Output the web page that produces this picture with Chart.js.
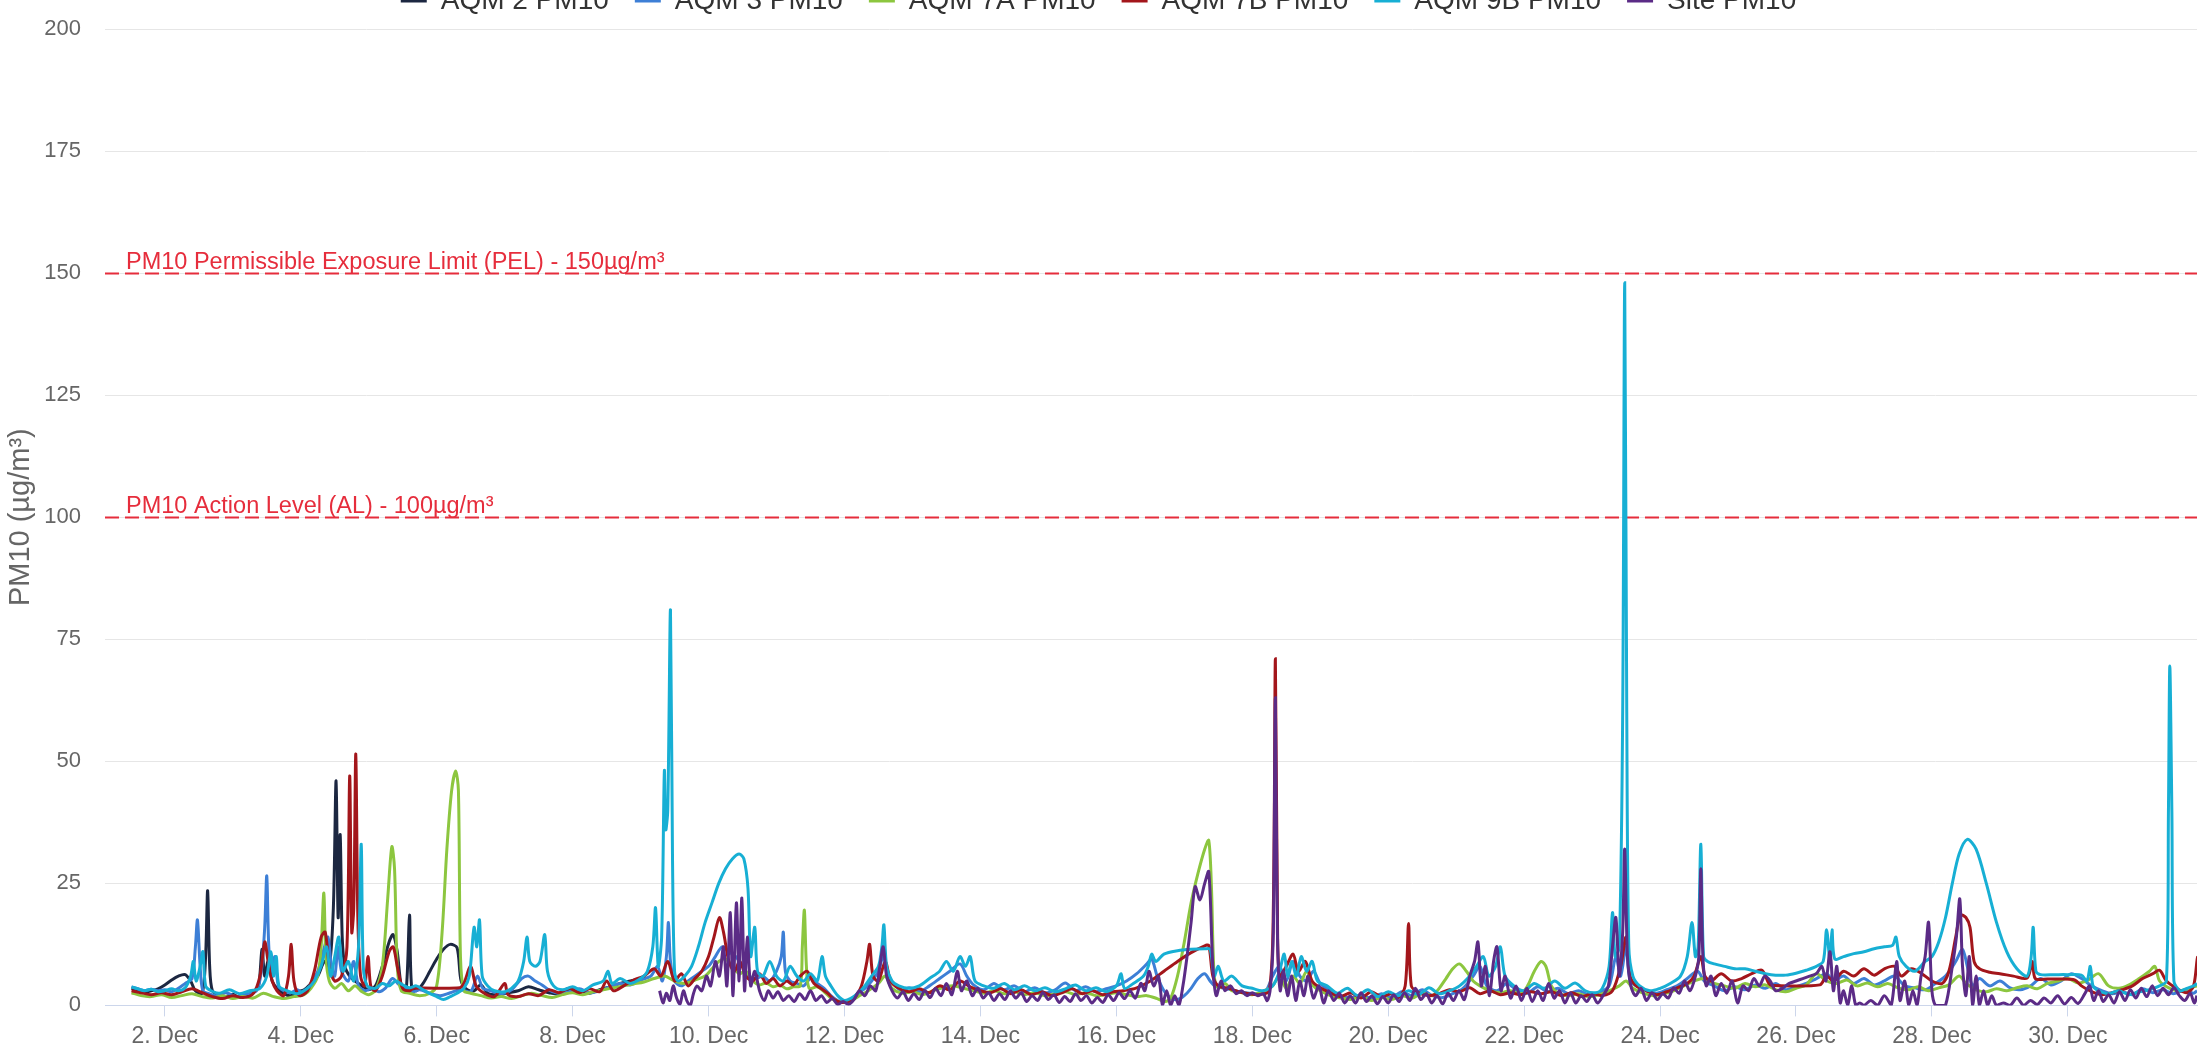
<!DOCTYPE html>
<html>
<head>
<meta charset="utf-8">
<title>PM10 - December</title>
<script src="https://cdn.jsdelivr.net/npm/chart.js@4.4.1/dist/chart.umd.min.js"></script>
<style>
  html, body { margin: 0; padding: 0; background: #fff; overflow: hidden; }
  #wrap { position: absolute; left: 0; top: -39px; width: 2201px; height: 1095px; }
</style>
</head>
<body>
<div id="wrap"><canvas id="pmChart" width="2201" height="1095"></canvas></div>
<script>
// readings per monitor: [day of December, PM10 µg/m³]
const aqm2 = [[1.51,3.5],[1.6,3.2],[1.7,2.8],[1.8,3.0],[1.9,3.4],[2.0,4.2],[2.1,5.2],[2.2,6.0],[2.3,6.3],[2.38,5.0],[2.45,3.0],[2.55,2.5],[2.6,10],[2.63,23.5],[2.66,8],[2.7,3],[2.8,2.2],[2.9,1.8],[3.0,2.3],[3.1,1.6],[3.2,2.0],[3.3,2.6],[3.38,4],[3.43,11.5],[3.47,6],[3.52,9],[3.58,5],[3.65,3.5],[3.75,2.4],[3.85,2.0],[3.95,2.8],[4.05,3.2],[4.15,4.5],[4.25,6],[4.35,9],[4.42,8],[4.48,20],[4.52,46],[4.55,18],[4.58,35],[4.61,14],[4.65,8],[4.72,6],[4.8,5],[4.9,4],[5.0,3.2],[5.1,4],[5.2,8],[5.3,13],[5.36,14.5],[5.42,11],[5.48,4],[5.55,3],[5.6,18.5],[5.63,4],[5.7,3],[5.8,4.5],[5.9,7],[6.0,9.5],[6.1,11.5],[6.2,12.5],[6.3,11.8],[6.36,5],[6.45,3.2],[6.55,3],[6.65,4.2],[6.75,2.5],[6.9,2.2],[7.05,2.6],[7.2,3.0],[7.35,3.8],[7.5,3.2],[7.65,2.6],[7.8,2.3],[7.95,3.3],[8.1,3.0],[8.25,2.5],[8.4,3.2],[8.55,3.8],[8.7,4.5],[8.85,5.0],[9.0,5.5]];

const aqm3 = [[1.51,3.8],[1.6,3.4],[1.7,3.0],[1.8,3.3],[1.9,3.0],[2.0,3.2],[2.1,2.8],[2.2,3.5],[2.3,4.5],[2.4,5.5],[2.45,12],[2.48,17.5],[2.52,8],[2.56,3],[2.65,2.4],[2.75,2.0],[2.9,2.6],[3.05,1.8],[3.2,2.3],[3.35,3.0],[3.42,7],[3.47,16],[3.5,26.5],[3.53,12],[3.57,7],[3.62,10],[3.67,4],[3.75,3],[3.85,2.6],[3.95,3.2],[4.05,2.4],[4.15,4.5],[4.25,7],[4.33,11],[4.4,14],[4.45,8],[4.5,6],[4.55,12],[4.6,7],[4.7,5],[4.78,9],[4.85,4],[4.95,3],[5.05,3.5],[5.15,2.8],[5.25,3.6],[5.35,5.5],[5.45,4.2],[5.55,3.4],[5.65,2.8],[5.75,3.2],[5.9,2.5],[6.05,2.0],[6.2,2.6],[6.35,3.2],[6.5,2.8],[6.6,6],[6.68,3.5],[6.8,3],[6.95,2.4],[7.1,3.2],[7.25,5.5],[7.35,6],[7.45,5],[7.55,4.2],[7.65,3.2],[7.8,2.5],[7.95,2.8],[8.1,3.4],[8.25,2.6],[8.4,3],[8.55,3.8],[8.7,4.5],[8.85,4.2],[9.0,5.2],[9.15,6],[9.25,8],[9.32,5],[9.38,10],[9.41,17],[9.44,9],[9.5,5],[9.6,4],[9.7,5],[9.8,6],[9.9,7],[10.0,8],[10.1,10],[10.2,12],[10.3,11],[10.4,10],[10.5,8],[10.6,6],[10.7,5.5],[10.8,6],[10.9,5],[11.0,7],[11.07,10],[11.1,15],[11.13,7],[11.2,5],[11.3,4.5],[11.4,4],[11.5,5.5],[11.6,4.5],[11.7,3.5],[11.8,2],[11.9,1],[12.0,0.8],[12.1,1.2],[12.2,2.5],[12.3,3.5],[12.4,5],[12.5,7],[12.57,10],[12.65,6],[12.75,4],[12.85,3],[12.95,3.6],[13.1,2.8],[13.25,4],[13.4,5.5],[13.55,7],[13.7,8.5],[13.8,6],[13.9,4.2],[14.05,3.2],[14.2,4.5],[14.35,3.2],[14.5,4],[14.65,2.8],[14.8,3.6],[14.95,2.6],[15.1,3.2],[15.25,4.6],[15.4,3],[15.55,3.8],[15.7,2.8],[15.85,3.4],[16.0,4],[16.15,5],[16.3,6.5],[16.45,8.5],[16.52,9.5],[16.6,6],[16.7,3],[16.8,1.5],[16.9,1.2],[17.0,2],[17.1,3.5],[17.2,5.5],[17.3,6.5],[17.38,5],[17.45,4],[17.6,3.5],[17.75,3],[17.9,2.6],[18.05,2.4],[18.2,3],[18.3,6],[18.4,8],[18.5,5],[18.6,9],[18.7,6],[18.8,5],[18.9,7],[19.0,4.5],[19.15,3],[19.3,2],[19.45,1.5],[19.6,2.2],[19.75,1.4],[19.9,2.4],[20.05,1.6],[20.2,2.8],[20.35,2],[20.5,3.2],[20.65,2],[20.8,1.6],[20.95,2.4],[21.1,3.5],[21.25,6],[21.35,8],[21.45,4],[21.6,3],[21.75,4.5],[21.9,3],[22.05,2.5],[22.2,3.8],[22.35,2.8],[22.5,3.5],[22.65,2.4],[22.8,3],[22.95,2.2],[23.1,2.6],[23.25,4],[23.35,10],[23.42,6],[23.5,12],[23.56,5],[23.65,4],[23.8,3],[23.95,2.5],[24.1,3.2],[24.25,4],[24.4,5.5],[24.55,7],[24.65,5],[24.8,4],[24.95,3],[25.1,3.8],[25.25,3.2],[25.4,4.2],[25.55,3.5],[25.7,4.5],[25.85,3.2],[26.0,3.8],[26.15,4.5],[26.3,5.5],[26.45,6.5],[26.55,5],[26.7,6],[26.85,4.5],[27.0,5.5],[27.15,4.2],[27.3,5],[27.45,6],[27.6,4],[27.75,3.6],[27.9,3.2],[28.05,4.5],[28.2,6],[28.35,9],[28.45,11.5],[28.52,8],[28.6,4],[28.7,5.5],[28.85,4],[29.0,5],[29.15,3.6],[29.3,3.2],[29.45,4],[29.6,5.5],[29.75,4.2],[29.9,5],[30.05,6.5],[30.2,5.5],[30.35,4],[30.5,3],[30.65,2.4],[30.8,2.8],[30.95,2.2],[31.1,3.4],[31.25,2.6],[31.4,3.2],[31.55,2.4],[31.7,3],[31.85,2.5],[31.9,3]];

const aqm7a = [[1.51,2.6],[1.65,2.0],[1.8,1.8],[1.95,2.2],[2.1,1.6],[2.25,2.0],[2.4,2.4],[2.55,1.8],[2.7,1.5],[2.85,2.0],[3.0,1.4],[3.15,1.8],[3.3,1.5],[3.45,2.5],[3.6,1.8],[3.75,1.4],[3.9,1.8],[4.05,2.2],[4.15,3.5],[4.25,6],[4.3,12],[4.34,23],[4.37,10],[4.42,5],[4.5,3.5],[4.6,4.5],[4.7,3],[4.8,4],[4.9,2.8],[5.0,2.2],[5.1,3.2],[5.2,8],[5.28,22],[5.34,32.5],[5.38,28],[5.42,8],[5.48,3],[5.6,2.5],[5.75,2],[5.9,2.5],[6.0,4],[6.08,15],[6.15,32],[6.22,44],[6.28,48],[6.32,44],[6.35,10],[6.4,3],[6.5,2.5],[6.65,2],[6.8,1.5],[6.95,1.8],[7.1,1.4],[7.25,2],[7.4,2.5],[7.55,2],[7.7,1.6],[7.85,2.2],[8.0,2.6],[8.15,2.2],[8.3,2.8],[8.45,3.2],[8.6,3.6],[8.75,4],[8.9,4.4],[9.05,4.8],[9.2,5.5],[9.35,6],[9.5,5],[9.65,4.5],[9.8,5.2],[9.95,6],[10.05,7.5],[10.15,9],[10.25,9.5],[10.35,8],[10.45,6.5],[10.55,7],[10.65,5],[10.75,4.2],[10.85,4.6],[10.95,3.8],[11.05,4.2],[11.15,3.4],[11.25,3.8],[11.35,4],[11.38,12],[11.41,19.5],[11.44,8],[11.48,3.5],[11.6,3.8],[11.7,2.8],[11.8,1.5],[11.9,0.8],[12.0,0.6],[12.1,1],[12.2,1.8],[12.35,3],[12.5,4.5],[12.6,6],[12.7,3.5],[12.85,2.5],[13.0,2.8],[13.15,2.2],[13.3,3],[13.45,3.6],[13.6,4],[13.75,3.5],[13.9,3],[14.05,2.5],[14.2,3],[14.35,2.4],[14.5,2.8],[14.65,2.2],[14.8,2.6],[14.95,2],[15.1,2.4],[15.25,2.8],[15.4,2.2],[15.55,2.6],[15.7,2],[15.85,2.2],[16.0,2.6],[16.15,2.2],[16.3,1.8],[16.45,2],[16.6,1.4],[16.72,0.8],[16.8,1.5],[16.9,6],[17.0,13],[17.1,21],[17.2,27],[17.3,32],[17.36,33.8],[17.4,24],[17.44,6],[17.5,3.5],[17.6,4.5],[17.7,3],[17.85,2.6],[18.0,2.2],[18.15,2.8],[18.3,4],[18.4,6],[18.5,3.5],[18.6,6],[18.7,4.5],[18.8,7],[18.9,4],[19.0,3],[19.15,2],[19.3,1.5],[19.45,1.2],[19.6,1.8],[19.75,1],[19.9,1.6],[20.05,1.2],[20.2,2],[20.35,1.5],[20.5,2.5],[20.65,2],[20.75,3.5],[20.85,5.5],[20.95,7.5],[21.05,8.5],[21.15,7],[21.25,5],[21.35,4],[21.5,3],[21.65,2.6],[21.8,3],[21.95,2.4],[22.05,4],[22.15,7],[22.25,9],[22.32,8],[22.4,4],[22.5,2.5],[22.65,2],[22.8,2.4],[22.95,1.8],[23.1,2.2],[23.25,3],[23.4,4],[23.5,5],[23.6,3.5],[23.75,2.5],[23.9,2],[24.05,2.4],[24.2,3],[24.35,4],[24.5,5],[24.65,5.5],[24.8,4.5],[24.95,4],[25.1,3.5],[25.25,4.5],[25.4,3.8],[25.55,4.2],[25.7,3.2],[25.85,2.8],[26.0,3.5],[26.15,4.2],[26.3,6.5],[26.45,5],[26.6,4.5],[26.75,5.2],[26.9,4],[27.05,4.6],[27.2,3.8],[27.35,4.5],[27.5,3.6],[27.65,3.2],[27.8,3.8],[27.95,3],[28.1,3.6],[28.25,4.2],[28.4,6],[28.5,4.5],[28.65,3.2],[28.8,2.8],[28.95,3.4],[29.1,3.0],[29.25,3.6],[29.4,4],[29.55,3.4],[29.7,4.5],[29.85,5],[30.0,5.5],[30.15,4.6],[30.3,5.2],[30.45,6.5],[30.6,4],[30.75,3.5],[30.9,4.2],[31.05,5.5],[31.2,7],[31.28,8],[31.35,5],[31.5,3.5],[31.65,3],[31.8,3.6],[31.9,4]];

const aqm7b = [[1.51,3],[1.65,2.6],[1.8,2.2],[1.95,2.6],[2.1,2.2],[2.25,2.8],[2.4,3.4],[2.55,2.6],[2.7,1.8],[2.85,1.4],[3.0,2],[3.15,1.6],[3.3,2.4],[3.4,6],[3.47,13],[3.52,9],[3.58,5],[3.65,3],[3.75,2],[3.82,6],[3.86,12.5],[3.9,5],[3.98,2],[4.1,3],[4.2,7],[4.3,14],[4.36,15],[4.42,8],[4.5,5],[4.6,6],[4.68,12],[4.72,47],[4.75,15],[4.78,20],[4.81,51.5],[4.84,18],[4.88,6],[4.94,4],[4.99,10],[5.03,4],[5.1,3],[5.2,6],[5.3,11],[5.36,12],[5.42,8],[5.5,3.5],[5.6,3],[5.66,3.5],[6.34,3.6],[6.4,4.5],[6.5,8],[6.58,4],[6.7,2.5],[6.85,1.8],[7.0,4.5],[7.05,2.2],[7.2,1.8],[7.35,2.4],[7.5,2],[7.65,3.2],[7.8,2.6],[7.95,3.5],[8.1,2.6],[8.25,3.4],[8.4,2.8],[8.5,5],[8.6,3],[8.75,4],[8.9,5.2],[9.05,6],[9.2,7.5],[9.3,6],[9.4,9],[9.5,5],[9.6,6.5],[9.7,4],[9.8,5.5],[9.9,7],[10.0,10],[10.08,14],[10.16,18],[10.22,15],[10.3,9],[10.38,7],[10.46,9],[10.55,6],[10.65,5],[10.75,6.5],[10.85,4.5],[10.95,5.5],[11.05,4],[11.15,5],[11.25,4.2],[11.35,6],[11.45,7],[11.55,4.5],[11.65,3.5],[11.75,2.5],[11.85,1.2],[11.95,0.6],[12.05,0.8],[12.15,1.5],[12.25,4],[12.33,9],[12.37,12.5],[12.42,6],[12.5,5],[12.6,9],[12.68,5],[12.8,3.5],[12.95,2.8],[13.1,3.4],[13.25,2.6],[13.4,4],[13.55,3.2],[13.7,5],[13.85,3.8],[14.0,3],[14.15,2.6],[14.3,3.4],[14.45,2.4],[14.6,3.2],[14.75,2.2],[14.9,2.8],[15.05,2],[15.2,2.6],[15.35,3.4],[15.5,2.4],[15.65,3],[15.8,2.2],[15.95,2.8],[16.1,3],[16.3,3.6],[16.5,5],[16.7,7],[16.9,9],[17.1,10.8],[17.3,12.2],[17.36,12.3],[17.42,6],[17.5,4],[17.65,3.5],[17.8,2.8],[17.95,2.4],[18.1,2.2],[18.25,3],[18.31,20],[18.34,71],[18.37,20],[18.4,6],[18.5,8],[18.6,10.5],[18.68,7],[18.78,9],[18.88,5],[19.0,3.6],[19.15,2.6],[19.3,1.8],[19.45,2.6],[19.6,1.5],[19.75,2.8],[19.9,1.8],[20.05,2.4],[20.15,1.6],[20.25,4],[20.3,16.8],[20.34,4],[20.45,2.6],[20.6,2.0],[20.75,2.4],[20.9,3.2],[21.05,2.8],[21.2,3.6],[21.35,2.4],[21.5,3],[21.65,2.2],[21.8,2.6],[21.95,2.2],[22.1,2.8],[22.25,2.4],[22.4,2.8],[22.55,2],[22.7,2.6],[22.85,1.8],[23.0,2.4],[23.15,2],[23.3,3],[23.42,8],[23.5,14],[23.56,6],[23.65,4],[23.8,3],[23.95,2.2],[24.1,2.8],[24.25,3.6],[24.4,4.5],[24.5,6],[24.6,10],[24.66,6],[24.75,5],[24.9,6.5],[25.05,5],[25.2,5.5],[25.35,6.5],[25.5,7.2],[25.6,4.5],[25.65,4.1],[26.35,4.2],[26.45,6],[26.55,5],[26.7,7],[26.85,6],[27.0,7.5],[27.15,6.2],[27.3,7.5],[27.45,8],[27.55,6],[27.7,7.5],[27.85,6.5],[28.0,5],[28.15,4.5],[28.25,7],[28.35,14],[28.42,18.5],[28.5,18],[28.56,16],[28.62,9],[28.7,7.5],[28.85,6.8],[29.0,6.5],[29.2,6],[29.4,5.6],[29.48,9],[29.52,5.5],[29.7,5.4],[29.9,5.4],[30.1,5.2],[30.2,4],[30.35,2.8],[30.5,2.2],[30.65,2.6],[30.8,3.2],[30.95,4],[31.1,5.5],[31.25,6.5],[31.35,7.2],[31.45,5],[31.6,3.5],[31.75,2.6],[31.85,4],[31.91,10],[31.94,6],[31.97,3]];

const aqm9b = [[1.51,3.8],[1.6,3.4],[1.7,3.0],[1.8,3.3],[1.9,2.8],[2.0,3.0],[2.1,3.4],[2.2,3.0],[2.3,3.6],[2.38,6],[2.42,9],[2.46,5],[2.52,8],[2.56,11],[2.6,4],[2.68,3],[2.8,2.5],[2.95,3.2],[3.1,2.4],[3.25,3],[3.4,3.5],[3.5,6],[3.56,11],[3.6,6],[3.64,10],[3.68,4],[3.8,3],[3.95,2.4],[4.1,3.5],[4.2,5],[4.3,8],[4.38,12],[4.44,6],[4.5,10],[4.56,14],[4.62,7],[4.7,9],[4.78,5],[4.85,12],[4.89,33],[4.92,8],[4.98,4],[5.1,3.5],[5.2,4.5],[5.3,4],[5.4,5],[5.5,4.2],[5.6,3.6],[5.7,4],[5.8,3.2],[5.9,2.4],[6.0,1.8],[6.1,1.2],[6.2,1.8],[6.3,2.5],[6.4,3.5],[6.48,6],[6.55,16],[6.59,12],[6.63,17.5],[6.67,6],[6.75,4],[6.85,3],[7.0,2.8],[7.1,3.5],[7.2,5],[7.28,9],[7.33,14],[7.37,9],[7.45,8],[7.52,9],[7.59,14.5],[7.63,7],[7.72,4],[7.85,3.2],[8.0,3.8],[8.15,3],[8.3,4.2],[8.45,5],[8.52,7],[8.58,4.5],[8.7,5.5],[8.85,4.5],[9.0,5.5],[9.1,7],[9.18,12],[9.22,20],[9.26,8],[9.31,14],[9.35,48],[9.37,36],[9.4,40],[9.44,81],[9.47,30],[9.5,7],[9.55,5],[9.65,6],[9.75,8],[9.85,12],[9.95,17],[10.05,21],[10.15,25],[10.25,28],[10.35,30],[10.45,31],[10.52,30],[10.58,24],[10.62,10],[10.68,16],[10.72,7],[10.8,6],[10.9,9],[11.0,6],[11.1,5],[11.2,8],[11.3,6],[11.4,5],[11.5,6.5],[11.6,5],[11.67,10],[11.72,6],[11.8,4],[11.9,2],[12.0,1],[12.1,1.5],[12.2,2.5],[12.3,4],[12.4,6],[12.5,8],[12.55,12],[12.58,16.5],[12.62,8],[12.7,5],[12.8,4],[12.95,3.5],[13.1,4],[13.25,5.5],[13.4,7],[13.5,9],[13.6,7],[13.7,10],[13.78,8],[13.85,10],[13.92,5],[14.05,4],[14.2,3.5],[14.35,4.5],[14.5,3.2],[14.65,4],[14.8,3],[14.95,3.6],[15.1,2.8],[15.25,3.4],[15.4,4.2],[15.55,3],[15.7,3.6],[15.85,2.8],[16.0,4],[16.07,6.5],[16.12,3.5],[16.25,4.5],[16.4,6],[16.47,8],[16.52,10.5],[16.58,9],[16.7,10.5],[16.9,11.2],[17.1,11.5],[17.3,11.6],[17.38,11.5],[17.44,6],[17.5,8],[17.58,5],[17.7,6],[17.85,4],[18.0,3.5],[18.15,3],[18.3,4],[18.4,7],[18.47,10.5],[18.52,6],[18.58,9],[18.65,6],[18.72,10],[18.8,7],[18.88,9],[18.96,5],[19.1,4],[19.25,2.5],[19.4,3.5],[19.55,2],[19.7,3.2],[19.85,1.8],[20.0,2.8],[20.15,2],[20.3,3],[20.45,2.2],[20.6,3.6],[20.75,2.4],[20.9,3],[21.05,4],[21.2,6],[21.3,8],[21.4,10],[21.48,6],[21.58,8],[21.65,12],[21.72,6],[21.85,4],[22.0,3],[22.15,4.5],[22.3,3.5],[22.45,5],[22.6,3.5],[22.75,4.6],[22.9,3],[23.05,2.6],[23.15,3.5],[23.25,8],[23.3,19],[23.34,10],[23.4,12],[23.45,60],[23.48,148],[23.51,60],[23.54,12],[23.6,6],[23.7,4],[23.85,3],[24.0,3.5],[24.15,4.5],[24.3,6],[24.4,10],[24.47,17],[24.52,10],[24.56,12],[24.6,33],[24.64,10],[24.7,9],[24.8,8.5],[24.95,8],[25.1,7.5],[25.25,7.5],[25.4,7],[25.55,6.5],[25.7,6.2],[25.85,6.2],[26.0,6.6],[26.15,7.2],[26.3,8],[26.4,9],[26.45,15.5],[26.5,9],[26.53,15.5],[26.57,9.5],[26.7,10],[26.85,10.6],[27.0,11],[27.15,11.6],[27.3,12],[27.42,12.3],[27.47,14],[27.52,10],[27.62,8],[27.75,7],[27.9,9],[28.0,10],[28.1,13],[28.2,18],[28.3,25],[28.4,31],[28.52,34],[28.65,32],[28.8,25],[28.95,17],[29.1,11],[29.25,7.5],[29.4,6],[29.46,10],[29.49,16],[29.53,7],[29.6,6.3],[29.8,6.3],[30.0,6.3],[30.2,6.2],[30.28,5],[30.33,8],[30.37,4],[30.45,3],[30.6,2.4],[30.75,3],[30.9,2.2],[31.05,2.8],[31.2,3.2],[31.35,4],[31.45,5],[31.48,40],[31.5,69.5],[31.53,40],[31.56,5],[31.65,3],[31.75,3.5],[31.85,4],[31.9,4.5]];

const sitePm10 = [[9.28,3],[9.33,0.5],[9.38,2.5],[9.43,1],[9.48,4],[9.53,1.5],[9.58,0.3],[9.63,3],[9.68,1],[9.73,0],[9.78,2.5],[9.83,4],[9.9,3],[9.97,6],[10.03,4],[10.1,9],[10.16,6],[10.22,12],[10.27,4],[10.32,19],[10.36,2],[10.41,21],[10.45,5],[10.49,22],[10.53,3],[10.57,14],[10.62,4],[10.68,7],[10.75,3],[10.82,1],[10.88,3],[10.95,1.5],[11.02,2.8],[11.1,1],[11.18,2],[11.26,0.8],[11.34,2.4],[11.42,1.2],[11.5,3],[11.58,1],[11.66,2],[11.74,0.6],[11.82,1.4],[11.9,0.2],[11.98,0.8],[12.06,0.2],[12.14,1.2],[12.22,3],[12.3,2],[12.38,4],[12.46,3],[12.52,8],[12.57,12],[12.62,6],[12.7,3],[12.78,1.5],[12.86,2.8],[12.94,1],[13.02,2.4],[13.1,1.2],[13.18,3],[13.26,1.6],[13.34,3.5],[13.42,2],[13.5,4.5],[13.58,2.2],[13.66,7],[13.72,3],[13.8,5],[13.88,2],[13.96,3.5],[14.04,1.5],[14.12,2.6],[14.2,1],[14.28,2.4],[14.36,1.2],[14.44,3],[14.52,1.5],[14.6,2.6],[14.68,0.8],[14.76,2],[14.84,1],[14.92,2.6],[15.0,1.2],[15.08,2.2],[15.16,0.6],[15.24,1.8],[15.32,0.8],[15.4,2.4],[15.48,1],[15.56,2],[15.64,0.5],[15.72,1.6],[15.8,0.6],[15.88,2.2],[15.96,1],[16.04,2.6],[16.12,1.4],[16.2,3],[16.28,1.5],[16.36,4.5],[16.42,3],[16.48,7],[16.55,4],[16.62,6],[16.68,0],[16.74,3],[16.8,0],[16.86,2],[16.92,0],[16.98,4],[17.04,10],[17.1,17],[17.16,24.3],[17.23,21.6],[17.3,25],[17.36,27.4],[17.42,8],[17.47,2],[17.54,5],[17.6,3],[17.68,4],[17.76,2.4],[17.84,3],[17.92,2],[18.0,2.6],[18.08,2],[18.16,2.4],[18.22,1],[18.27,4],[18.31,15],[18.34,63],[18.37,15],[18.41,3],[18.46,7],[18.52,2],[18.58,6],[18.64,1],[18.7,5],[18.76,2],[18.82,6],[18.9,1.5],[18.98,4],[19.05,0.5],[19.12,3],[19.2,1],[19.28,2.5],[19.36,0.5],[19.44,2],[19.52,0.5],[19.6,2.6],[19.68,0.8],[19.76,2],[19.84,0.3],[19.92,1.8],[20.0,0.5],[20.08,2.2],[20.16,0.8],[20.24,2.6],[20.32,1],[20.4,3.5],[20.48,1.2],[20.56,2.4],[20.64,0.5],[20.72,2],[20.8,0.3],[20.88,2.5],[20.96,1],[21.04,3],[21.12,1.2],[21.2,6],[21.27,9],[21.32,13],[21.37,4],[21.43,8],[21.49,2],[21.55,9],[21.6,12],[21.66,3],[21.72,6],[21.8,1.5],[21.88,4],[21.96,1],[22.04,3.5],[22.12,0.8],[22.2,3],[22.28,1],[22.36,4.5],[22.44,1.5],[22.52,3],[22.6,0.5],[22.68,2.6],[22.76,0.5],[22.84,2],[22.92,0.8],[23.0,2.2],[23.08,0.5],[23.16,2],[23.24,4],[23.3,12],[23.35,18],[23.4,6],[23.45,15],[23.48,32],[23.52,10],[23.57,4],[23.64,2],[23.72,3.5],[23.8,1],[23.88,2.6],[23.96,1.2],[24.04,2.4],[24.12,1.5],[24.2,3.6],[24.28,2.5],[24.36,5],[24.44,3],[24.52,6],[24.57,10],[24.6,28],[24.63,10],[24.68,4],[24.75,6],[24.82,2],[24.9,4.5],[24.98,2.5],[25.06,5],[25.14,0.5],[25.22,4],[25.3,3],[25.38,5.5],[25.46,4],[25.54,6],[25.62,5],[25.7,3],[25.8,3.5],[25.9,4.5],[26.0,5],[26.1,5.5],[26.2,6],[26.3,6.5],[26.38,8],[26.44,5],[26.5,11],[26.55,3],[26.6,8],[26.65,0.5],[26.7,3],[26.76,0],[26.82,4],[26.88,0],[26.94,0.5],[27.0,0],[27.1,1],[27.2,0],[27.3,2],[27.4,0],[27.48,9],[27.53,1],[27.6,5],[27.66,0],[27.72,3],[27.78,0],[27.84,6],[27.9,10],[27.95,17],[28.0,3],[28.05,0],[28.12,0],[28.2,0],[28.3,8],[28.36,14],[28.41,21.8],[28.45,8],[28.5,2],[28.55,10],[28.6,0],[28.65,6],[28.7,0],[28.76,3],[28.82,0],[28.88,2],[28.95,0],[29.05,0.5],[29.15,0],[29.25,1.5],[29.35,0],[29.45,1],[29.55,0.2],[29.65,1.5],[29.75,0.5],[29.85,2],[29.95,0.3],[30.05,1.6],[30.15,0.4],[30.25,2.4],[30.32,4],[30.38,1],[30.45,3],[30.52,0.8],[30.6,2.2],[30.68,0.5],[30.76,2.8],[30.84,1],[30.92,3.2],[31.0,1.5],[31.08,3.5],[31.16,1.8],[31.24,4],[31.32,2],[31.4,3.5],[31.48,2.2],[31.56,3.6],[31.64,2],[31.72,1],[31.8,2.5],[31.86,0.5],[31.9,2]];

const seriesNames = ['AQM 2 PM10', 'AQM 3 PM10', 'AQM 7A PM10', 'AQM 7B PM10', 'AQM 9B PM10', 'Site PM10'];
const seriesData = [aqm2, aqm3, aqm7a, aqm7b, aqm9b, sitePm10];
const seriesColors = ['#1c2741', '#3d7fd6', '#8cc63f', '#a3161b', '#17afd4', '#5b2b86'];

const xTickDays = [2, 4, 6, 8, 10, 12, 14, 16, 18, 20, 22, 24, 26, 28, 30];
const limitValues = [150, 100];
const limitLabels = ['PM10 Permissible Exposure Limit (PEL) - 150\u00b5g/m\u00b3', 'PM10 Action Level (AL) - 100\u00b5g/m\u00b3'];
const limitColor = '#e62d3c';

const FONT = '"Liberation Sans", Arial, Helvetica, sans-serif';

// dashed PEL / AL reference lines with their captions
const limitLines = {
  id: 'limitLines',
  beforeDatasetsDraw(chart) {
    const { ctx, chartArea, scales: { y } } = chart;
    ctx.save();
    limitValues.forEach((v, i) => {
      const py = Math.round(y.getPixelForValue(v)) + 0.5;
      ctx.strokeStyle = limitColor;
      ctx.lineWidth = 2;
      ctx.setLineDash([14, 6]);
      ctx.beginPath();
      ctx.moveTo(chartArea.left, py);
      ctx.lineTo(chartArea.right, py);
      ctx.stroke();
      ctx.setLineDash([]);
      ctx.fillStyle = limitColor;
      ctx.font = '23.5px ' + FONT;
      ctx.textAlign = 'left';
      ctx.textBaseline = 'alphabetic';
      ctx.fillText(limitLabels[i], chartArea.left + 21, py - 5);
    });
    ctx.restore();
  }
};

// extra room between the legend row and the plot
const legendGap = {
  id: 'legendGap',
  beforeInit(chart) {
    const fit = chart.legend.fit;
    chart.legend.fit = function () {
      fit.call(this);
      this.height += 4;
    };
  }
};

const datasets = seriesNames.map((name, i) => ({
  label: name,
  data: seriesData[i].map(p => ({ x: p[0], y: p[1] })),
  borderColor: seriesColors[i],
  backgroundColor: seriesColors[i],
  borderWidth: 3,
  pointRadius: 0,
  tension: 0.3,
  fill: false,
  order: seriesNames.length - 1 - i
}));

new Chart(document.getElementById('pmChart'), {
  type: 'line',
  data: { datasets },
  plugins: [limitLines, legendGap],
  options: {
    responsive: false,
    animation: false,
    layout: { padding: { top: 0, right: 4, bottom: 0, left: 0 } },
    plugins: {
      tooltip: { enabled: false },
      legend: {
        position: 'top',
        labels: {
          usePointStyle: true,
          pointStyle: 'line',
          pointStyleWidth: 26,
          padding: 26,
          color: '#333333',
          font: { family: FONT, size: 28 },
          sort: (a, b) => a.datasetIndex - b.datasetIndex
        }
      }
    },
    scales: {
      x: {
        type: 'linear',
        min: 1.12,
        max: 31.9,
        afterBuildTicks: s => { s.ticks = xTickDays.map(v => ({ value: v })); },
        grid: { display: true, drawOnChartArea: false, drawTicks: true, tickLength: 11, color: '#ccd6eb', lineWidth: 1 },
        border: { display: true, color: '#ccd6eb', width: 1 },
        ticks: {
          autoSkip: false,
          maxRotation: 0,
          padding: 6,
          color: '#666666',
          font: { family: FONT, size: 23 },
          callback: v => v + '. Dec'
        }
      },
      y: {
        min: 0,
        max: 200,
        afterFit: s => { s.width = 105; },
        grid: { color: '#e6e6e6', lineWidth: 1, drawTicks: false },
        border: { display: false },
        ticks: {
          stepSize: 25,
          padding: 24,
          color: '#666666',
          font: { family: FONT, size: 22 }
        },
        title: {
          display: true,
          text: 'PM10 (\u00b5g/m\u00b3)',
          color: '#666666',
          padding: { top: 4, bottom: 0 },
          font: { family: FONT, size: 29 }
        }
      }
    }
  }
});
</script>
</body>
</html>
